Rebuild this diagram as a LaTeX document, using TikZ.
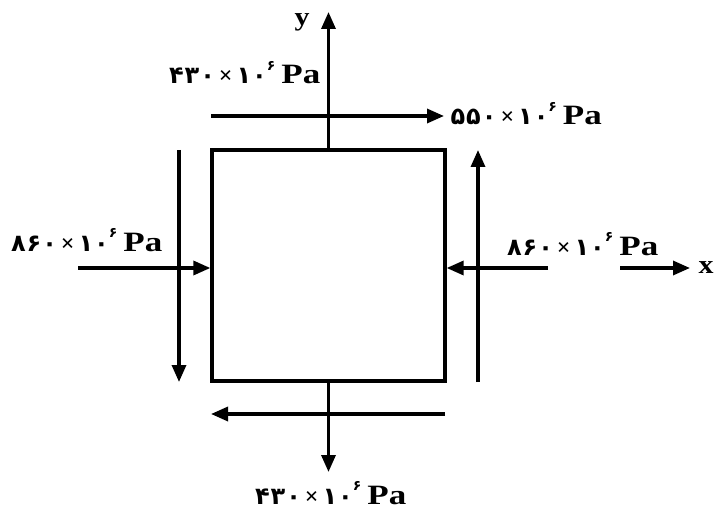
\documentclass[tikz,border=0pt]{standalone}
\usepackage{fontspec}
\setmainfont{Liberation Serif}
\newfontfamily\pdig{DejaVu Sans}[LetterSpace=4]
\usetikzlibrary{arrows.meta}
\newcommand{\pa}{\scalebox{1.25}[1]{\fontsize{28}{30}\selectfont\bfseries Pa}}
\newcommand{\lbl}[1]{{\pdig\bfseries #1}\,\textbf{×}\,{\pdig\bfseries ۱۰}\raisebox{0.55em}{\fontsize{14}{15}\selectfont\pdig\bfseries ۶}\hspace{6pt}\pa}
\begin{document}
\begin{tikzpicture}[x=1pt,y=-1pt,line width=3.3pt,
  >={Triangle[length=17pt,width=14pt]},
  lab/.style={inner sep=0pt,font=\fontsize{24}{26}\selectfont\bfseries},
  ax/.style={inner sep=0pt,font=\fontsize{26}{28}\selectfont\bfseries}]
\useasboundingbox (0,0) rectangle (715,516);
\node[draw,line width=3.3pt,minimum width=233pt,minimum height=231pt,inner sep=0pt] (sq) at (328.5,265.5) {};
% y axis
\coordinate (ytip) at (328.5,12);
\draw[->] (sq.north) -- (ytip);
\node[ax,anchor=base] (ylab) at (302,26) {\scalebox{1.15}[1]{y}};
\node[lab,anchor=base east] (lt) at (322,84) {\lbl{۴۳۰}};
% top shear
\coordinate (ts1) at (211,116);
\coordinate (ts2) at (444,116);
\draw[->] (ts1) -- (ts2);
\node[lab,anchor=base west] (lts) at (449,125) {\lbl{۵۵۰}};
% side shears
\coordinate (lv1) at (179,150);
\coordinate (lv2) at (179,382);
\draw[->] (lv1) -- (lv2);
\coordinate (rv1) at (478,382);
\coordinate (rv2) at (478,150);
\draw[->] (rv1) -- (rv2);
% normal stresses
\coordinate (lh) at (78,268);
\draw[->] (lh) -- (lh -| sq.west);
\coordinate (rh) at (548,268);
\draw[->] (rh) -- (rh -| sq.east);
\node[lab,anchor=base east] (ll) at (164,251) {\lbl{۸۶۰}};
\node[lab,anchor=base east] (lr) at (660,255) {\lbl{۸۶۰}};
% x axis
\coordinate (xa1) at (620,268);
\coordinate (xa2) at (690,268);
\draw[->] (xa1) -- (xa2);
\node[ax,anchor=base] (xlab) at (706,273) {\scalebox{1.15}[1]{x}};
% bottom
\coordinate (btip) at (328.5,472);
\draw[->] (sq.south) -- (btip);
\coordinate (bs1) at (445,414);
\coordinate (bs2) at (211,414);
\draw[->] (bs1) -- (bs2);
\node[lab,anchor=base east] (lb) at (408,504) {\lbl{۴۳۰}};
\end{tikzpicture}
\end{document}
